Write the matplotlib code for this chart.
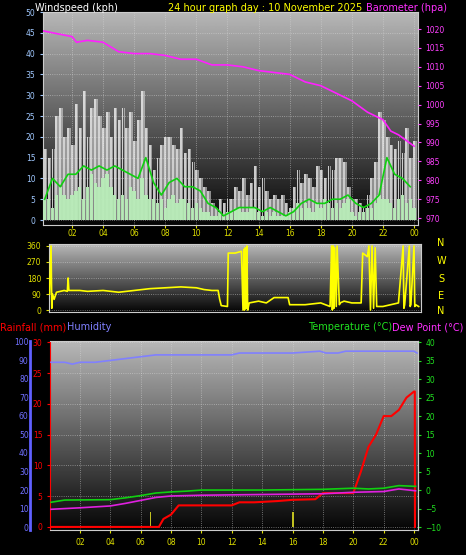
import numpy as np
import matplotlib.pyplot as plt

# ---- data (hours since midnight) ----
gust_t = np.arange(0.25, 24.01, 0.25)
gust = [17, 15, 17, 25, 27, 20, 22, 18, 28, 22, 31, 20, 27, 29, 25, 22,
        26, 20, 27, 24, 27, 22, 26, 19, 24, 31, 22, 18, 12, 15, 18, 20,
        20, 18, 17, 22, 16, 17, 14, 12, 10, 8, 7, 4, 3, 5, 4, 5,
        5, 8, 7, 10, 6, 9, 13, 8, 10, 7, 5, 6, 5, 6, 4, 3,
        8, 12, 9, 11, 10, 8, 13, 12, 10, 13, 12, 15, 15, 14, 8, 5,
        5, 4, 3, 6, 10, 14, 26, 24, 20, 18, 17, 19, 16, 22, 15, 19]
wind = [5, 5, 3, 6, 8, 6, 5, 6, 7, 8, 5, 8, 11, 9, 8, 10,
        11, 8, 6, 5, 6, 5, 8, 7, 5, 10, 6, 5, 5, 4, 5, 3,
        5, 6, 4, 5, 5, 4, 3, 4, 3, 2, 2, 1, 1, 2, 1, 2,
        2, 3, 3, 2, 2, 3, 3, 2, 1, 2, 1, 2, 1, 1, 1, 2,
        3, 4, 3, 4, 3, 2, 4, 3, 5, 4, 3, 4, 3, 4, 5, 2,
        1, 2, 2, 3, 3, 4, 6, 5, 5, 4, 3, 5, 6, 4, 5, 3]
avg_t = np.arange(0.25, 24.01, 0.5)
avg10 = [5, 10, 8, 11, 11, 13, 12, 13, 12, 13, 12, 11, 10, 15, 9, 6,
         9, 10, 8, 8, 7, 4, 3, 1, 2, 3, 3, 3, 2, 3, 2, 1,
         2, 4, 5, 4, 4, 5, 5, 6, 4, 3, 4, 6, 15, 11, 10, 8]

baro_t = [0.15, 1, 2, 2.3, 3, 4, 5, 6, 7, 8, 9, 10, 11, 12, 13, 14, 15, 16,
          17, 18, 19, 20, 21, 22, 22.5, 23, 24]
baro = [1019.5, 1018.8, 1018, 1016.5, 1017, 1016.5, 1014, 1013.5, 1013.5, 1013,
        1012, 1012, 1010.5, 1010.5, 1010, 1009, 1008.5, 1008, 1006, 1005, 1003,
        1001, 998, 996, 993, 992, 989]

dir_t = [0.55, 0.65, 0.7, 0.75, 0.85, 1.0, 1.5, 1.7, 1.75, 1.8, 2.5, 3, 4, 5, 6, 7,
         8, 9, 10, 10.5, 11, 11.4, 11.5, 11.6, 12.0, 12.05, 12.5, 12.9, 13.0, 13.05,
         13.1, 13.15, 13.2, 13.25, 13.3, 13.4, 14, 14.5, 15, 15.9, 16, 17, 18, 18.6,
         18.7, 18.75, 18.8, 18.85, 18.9, 19.0, 19.05, 19.2, 19.25, 19.5, 20, 20.6,
         20.7, 21.0, 21.1, 21.2, 21.3, 21.4, 21.5, 21.6, 22, 22.5, 23, 23.3, 23.35,
         23.4, 23.7, 23.75, 23.8, 24.0, 24.05, 24.1, 24.3]
dir_deg = [90, 360, 10, 90, 60, 100, 110, 105, 180, 110, 110, 105, 110, 100, 110, 120,
           125, 130, 125, 115, 110, 110, 60, 25, 20, 320, 320, 330, 0, 340,
           0, 350, 10, 360, 0, 40, 50, 40, 70, 70, 30, 30, 40, 20,
           360, 0, 360, 10, 350, 20, 360, 30, 40, 50, 40, 40,
           320, 300, 360, 0, 360, 10, 350, 20, 20, 30, 40, 360, 10,
           30, 360, 20, 30, 360, 20, 30, 20]

temp_t = [0.1, 1, 4, 5, 6, 7, 8, 9, 10, 14, 18, 20, 21, 22, 23, 24.1]
temp = [-3.3, -2.7, -2.6, -2.1, -1.5, -0.8, -0.5, -0.3, 0, 0, 0.2, 0.5, 0.3, 0.5, 1.2, 1.0]
dew_t = [0.1, 2, 4, 5, 6, 7, 8, 10, 14, 18, 20, 22, 23, 24.1]
dew = [-5.2, -4.8, -4.3, -3.6, -2.8, -2.0, -1.6, -1.4, -1.2, -1.0, -0.6, -0.4, 0.3, -0.2]
hum_t = [0.1, 1, 1.5, 2, 3, 4, 5, 6, 7, 8, 10, 12, 12.5, 14, 16, 17.8, 18.2, 19, 19.5, 24, 24.2]
hum = [89, 89, 88, 89, 89, 90, 91, 92, 93, 93, 93, 93, 94, 94, 94, 95, 94, 94, 95, 95, 94]
rain_t = [0.1, 7.2, 7.5, 8, 8.5, 12, 12.5, 13.5, 15, 16, 17.5, 18, 19, 20, 20.5, 21,
          21.5, 22, 22.5, 23, 23.5, 24, 24.05, 24.06]
rain = [0, 0, 1.3, 2, 3.5, 3.5, 4, 4, 4.2, 4.4, 4.5, 5.5, 5.5, 5.5, 9, 13,
        15, 18, 18, 19, 21, 22, 22, 0]
rate_t = [6.65, 16.05]
rate = [2.5, 2.5]

hours = [2, 4, 6, 8, 10, 12, 14, 16, 18, 20, 22, 24]
hour_labels = ["02", "04", "06", "08", "10", "12", "14", "16", "18", "20", "22", "00"]

W, H = 466, 555
fig = plt.figure(figsize=(W / 100, H / 100), dpi=100, facecolor="black")
plt.rcParams["font.family"] = "DejaVu Sans"
FS = 5.5


def box(x0, y0, x1, y1):
    return [x0 / W, 1 - y1 / H, (x1 - x0) / W, (y1 - y0) / H]


def backdrop(ax, top=0.72):
    g = np.linspace(top, 0.02, 256).reshape(-1, 1)
    ax.imshow(g, cmap="gray", vmin=0, vmax=1, aspect="auto", extent=[0, 1, 0, 1],
              transform=ax.transAxes, zorder=0)
    ax.set_facecolor("black")
    for s in ax.spines.values():
        s.set_color("#cccccc")
    ax.grid(True, color="#dddddd", linestyle=":", linewidth=0.6, alpha=0.6, zorder=1)


# ---- top panel: wind + barometer ----
ax1 = fig.add_axes(box(43, 12, 418, 225))
backdrop(ax1)
ax1.bar(gust_t, gust, width=0.12, color="#f4f4f4", alpha=0.8, zorder=2, linewidth=0)
ax1.bar(gust_t + 0.12, gust, width=0.1, color="#d8d8d8", alpha=0.6, zorder=2, linewidth=0)
ax1.bar(gust_t, wind, width=0.22, color="#b8ecb8", alpha=0.95, zorder=3, linewidth=0)
ax1.plot(avg_t, avg10, color="#10d010", linewidth=1.2, zorder=4)
ax1.set_xlim(0.14, 24.25)
ax1.set_ylim(-1.2, 50)
ax1.set_yticks(range(0, 51, 5))
ax1.set_xticks(hours)
ax1.set_xticklabels(hour_labels)
ax1.tick_params(axis="y", colors="#a0c8ff", labelsize=FS, length=2)
ax1.tick_params(axis="x", colors="#e0e000", labelsize=FS, length=2, labelbottom=False)
ax1b = ax1.twinx()
ax1b.plot(baro_t, baro, color="#ff20ff", linewidth=1.2, zorder=5)
ax1b.set_ylim(968.15, 1024.5)
ax1b.set_yticks(range(970, 1021, 5))
ax1b.tick_params(axis="y", colors="#ff40ff", labelsize=FS, length=2)
for s in ax1b.spines.values():
    s.set_visible(False)

fig.text(35 / W, 1 - 8 / H, "Windspeed (kph)", color="white", fontsize=7, va="center")
fig.text(265 / W, 1 - 8 / H, "24 hour graph day : 10 November 2025", color="yellow",
         fontsize=7, va="center", ha="center")
fig.text(447 / W, 1 - 8 / H, "Barometer (hpa)", color="#ff30ff", fontsize=7, va="center", ha="right")

# ---- middle panel: wind direction ----
ax2 = fig.add_axes(box(49, 244, 421, 312))
backdrop(ax2)
ax2.plot(dir_t, dir_deg, color="yellow", linewidth=1.2, zorder=3)
ax2.set_xlim(0.52, 24.45)
ax2.set_ylim(-11, 371)
ax2.set_yticks([0, 90, 180, 270, 360])
ax2.set_xticks(hours)
ax2.set_xticklabels(hour_labels)
ax2.tick_params(axis="y", colors="#e0e000", labelsize=FS, length=2)
ax2.tick_params(axis="x", colors="#e0e000", labelsize=FS, length=0, labelbottom=False,
                labeltop=True, pad=4)
ax2.grid(False, axis="x")
for lab, y in zip("NWSEN", [243, 261, 279, 296, 311]):
    fig.text(441 / W, 1 - y / H, lab, color="yellow", fontsize=7, ha="center", va="center")

# ---- bottom panel: rain / humidity / temperature ----
ax3 = fig.add_axes(box(50, 341, 418, 530))
backdrop(ax3)
ax3.bar(rate_t, rate, width=0.12, color="#c0c020", zorder=2)
ax3.plot(rain_t, rain, color="red", linewidth=1.5, zorder=6)
ax3.set_xlim(0.03, 24.26)
ax3.set_ylim(-0.5, 30.2)
ax3.set_yticks(range(0, 31, 5))
ax3.set_xticks(hours)
ax3.set_xticklabels(hour_labels)
ax3.tick_params(axis="y", colors="red", labelsize=FS, length=2)
ax3.tick_params(axis="x", colors="#e0e000", labelsize=FS, length=2)
ax3.spines["left"].set_color("red")

ax3h = ax3.twinx()
ax3h.plot(hum_t, hum, color="#8080ff", linewidth=1.2, zorder=5)
ax3h.set_ylim(-1.6, 100.5)
ax3h.set_yticks(range(0, 101, 10))
ax3h.yaxis.set_ticks_position("left")
ax3h.yaxis.set_label_position("left")
ax3h.spines["left"].set_position(("axes", -0.054))
ax3h.spines["left"].set_color("#6060ff")
ax3h.spines["left"].set_linewidth(2)
for k in ("right", "top", "bottom"):
    ax3h.spines[k].set_visible(False)
ax3h.tick_params(axis="y", colors="#7070ff", labelsize=FS, length=0, pad=1)

ax3t = ax3.twinx()
ax3t.plot(temp_t, temp, color="#10d010", linewidth=1.2, zorder=5)
ax3t.plot(dew_t, dew, color="#e020e0", linewidth=1.2, zorder=5)
ax3t.set_ylim(-10.8, 40.3)
ax3t.set_yticks(range(-10, 41, 5))
ax3t.tick_params(axis="y", colors="#20e020", labelsize=FS, length=2)
for k in ("left", "top", "bottom"):
    ax3t.spines[k].set_visible(False)
ax3t.spines["right"].set_color("#cccccc")

fig.text(0, 1 - 327 / H, "Rainfall (mm)", color="red", fontsize=7, va="center")
fig.text(67 / W, 1 - 327 / H, "Humidity", color="#8080ff", fontsize=7, va="center")
fig.text(392 / W, 1 - 327 / H, "Temperature (°C)", color="#20e020", fontsize=7, va="center", ha="right")
fig.text(463 / W, 1 - 327 / H, "Dew Point (°C)", color="#ff30ff", fontsize=7, va="center", ha="right")

fig.savefig("out.png", dpi=100, facecolor="black")
